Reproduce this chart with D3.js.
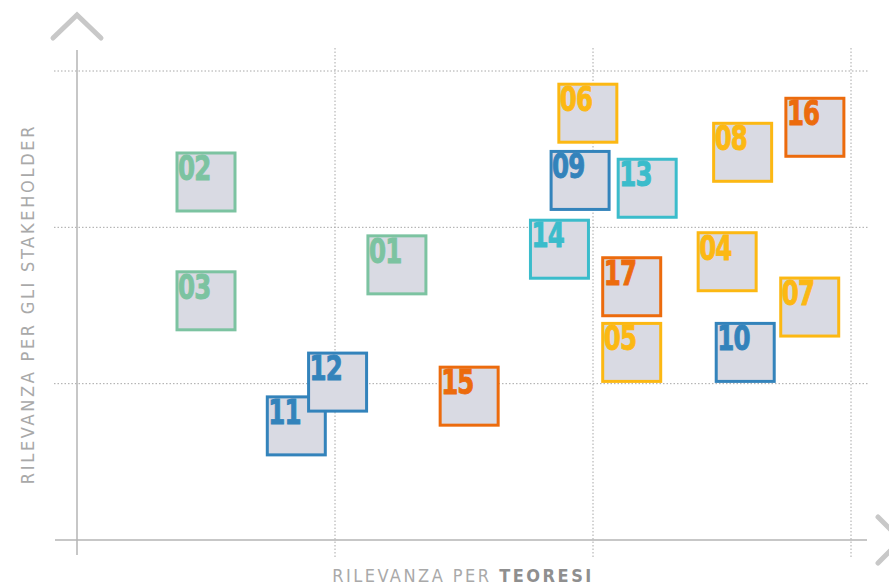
<!DOCTYPE html>
<html>
<head>
<meta charset="utf-8">
<script src="https://cdn.jsdelivr.net/npm/d3@7"></script>
<style>
  body { margin: 0; background: #fff; }
  svg { display: block; }
</style>
</head>
<body>
<svg id="chart" width="889" height="585"></svg>
<script>
// data
var ids    = ["01", "02", "03", "04", "05", "06", "07", "08", "09", "10", "11", "12", "13", "14", "15", "16", "17"];
var teoresi = [1.24, 0.50, 0.50, 2.52, 2.15, 1.98, 2.84, 2.58, 1.95, 2.59, 0.85, 1.01, 2.21, 1.87, 1.52, 2.86, 2.15];
var stake   = [1.76, 2.29, 1.53, 1.78, 1.20, 2.73, 1.49, 2.48, 2.30, 1.20, 0.73, 1.01, 2.25, 1.86, 0.92, 2.64, 1.62];
var groups  = ["green", "green", "green", "yellow", "yellow", "yellow", "yellow", "yellow", "blue", "blue", "blue", "blue", "cyan", "cyan", "orange", "orange", "orange"];
var gridTicks = [1, 2, 3];

var colors = { green: "#7cc3a1", yellow: "#fcb813", blue: "#3383bb", cyan: "#3bbccb", orange: "#ec6b0d" };

var svg = d3.select("#chart");
var x = d3.scaleLinear().domain([0, 3]).range([77, 851]);
var y = d3.scaleLinear().domain([0, 3]).range([540, 71]);
var box = 58;

// dotted grid
svg.selectAll(".gx").data(gridTicks).enter().append("line")
    .attr("x1", d => x(d)).attr("x2", d => x(d))
    .attr("y1", 48).attr("y2", 557)
    .style("stroke", "#a8a8a8").style("stroke-width", 1).style("stroke-dasharray", "1.5,2");
svg.selectAll(".gy").data(gridTicks).enter().append("line")
    .attr("x1", 54).attr("x2", 868)
    .attr("y1", d => y(d)).attr("y2", d => y(d))
    .style("stroke", "#a8a8a8").style("stroke-width", 1).style("stroke-dasharray", "1.5,2");

// axes
svg.append("line").attr("x1", x(0)).attr("x2", x(0)).attr("y1", 50).attr("y2", 555)
    .style("stroke", "#b5b5b5").style("stroke-width", 1.5);
svg.append("line").attr("x1", 55).attr("x2", 867).attr("y1", y(0)).attr("y2", y(0))
    .style("stroke", "#b5b5b5").style("stroke-width", 1.5);

// arrows
svg.append("path").attr("d", "M53,38 L77,15 L101,38")
    .style("fill", "none").style("stroke", "#c8c8c8").style("stroke-width", 5).style("stroke-linecap", "round");
svg.append("path").attr("d", "M878,517 L901,540 L878,563")
    .style("fill", "none").style("stroke", "#c8c8c8").style("stroke-width", 5).style("stroke-linecap", "round");

// axis titles
var xt = svg.append("text").attr("x", 463).attr("y", 582).attr("text-anchor", "middle")
    .style("font-family", "DejaVu Sans Condensed, DejaVu Sans").style("font-size", "18px")
    .style("letter-spacing", "2.5px").style("fill", "#a9a9a9");
xt.append("tspan").text("RILEVANZA PER ");
xt.append("tspan").text("TEORESI").style("font-weight", "bold").style("fill", "#8f8f8f");

svg.append("text").attr("transform", "translate(34,304) rotate(-90)").attr("text-anchor", "middle")
    .style("font-family", "DejaVu Sans Condensed, DejaVu Sans").style("font-size", "18px")
    .style("letter-spacing", "2.7px").style("fill", "#a9a9a9")
    .text("RILEVANZA PER GLI STAKEHOLDER");

// boxes
var pts = ids.map((id, i) => ({ id: id, tx: teoresi[i], st: stake[i], g: groups[i] }));
var g = svg.selectAll(".pt").data(pts).enter().append("g")
    .attr("transform", d => "translate(" + (x(d.tx) - box / 2) + "," + (y(d.st) - box / 2) + ")");
g.append("rect").attr("x", 0).attr("y", 0).attr("width", box).attr("height", box)
    .style("fill", "#d9dae3").style("stroke", d => colors[d.g]).style("stroke-width", 3);
g.append("text").attr("transform", "translate(1,27) scale(0.8,1)").text(d => d.id)
    .style("font-family", "DejaVu Sans Condensed, DejaVu Sans").style("font-weight", "bold")
    .style("font-size", "34px").style("letter-spacing", "-1px")
    .style("fill", d => colors[d.g]).style("stroke", d => colors[d.g]).style("stroke-width", 0.9);
</script>
</body>
</html>
